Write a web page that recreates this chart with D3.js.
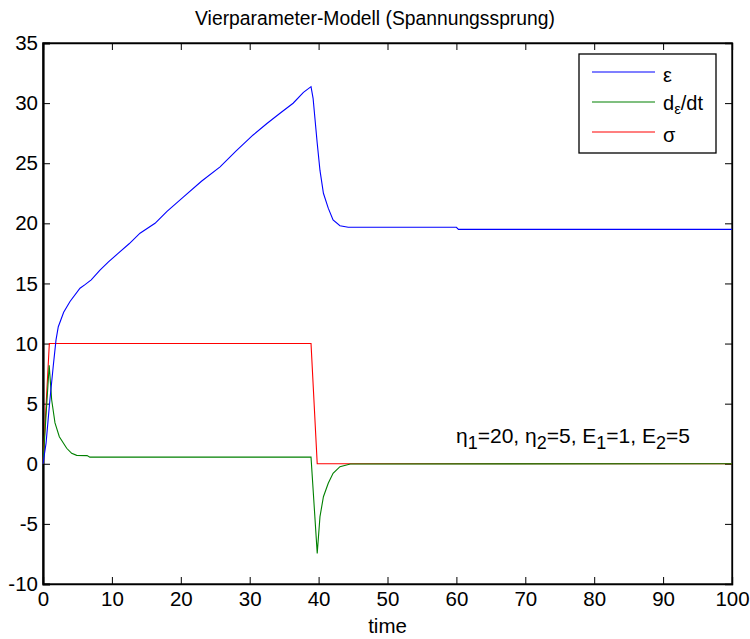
<!DOCTYPE html>
<html><head><meta charset="utf-8">
<script src="https://cdn.jsdelivr.net/npm/d3@7"></script>
<style>
body{margin:0;background:#fff;}
text{font-family:"Liberation Sans",Arial,Helvetica,sans-serif;fill:#000;}
</style></head><body>
<svg id="c" width="750" height="639"></svg>
<script>
// ---- data ----
const epsT = [0,0.44,1.0,1.5,1.89,2.22,3.0,3.92,5.37,6.1,7.0,8.27,9.5,10.9,12.5,14.08,16.26,18,20.4,23,25.7,28,30.5,32.5,34.4,36.3,37.8,38.9,39.2,39.8,40.2,40.7,41.4,42.1,43.1,44.3,60,60.3,100];
const epsV = [0,1.7,5.3,8.2,10.3,11.4,12.6,13.5,14.6,14.9,15.3,16.1,16.8,17.5,18.3,19.18,20.0,21.0,22.2,23.5,24.7,26.0,27.35,28.3,29.16,29.99,30.9,31.37,30.4,26.66,24.4,22.5,21.26,20.28,19.8,19.67,19.67,19.5,19.5];
const dEpsT = [0,0.9,1.26,1.74,2.37,3.44,4.16,4.89,6.4,6.8,38.9,39.8,40.2,40.7,41.4,42.1,43.1,44.6,100];
const dEpsV = [0,8.2,5.3,3.4,2.25,1.29,0.87,0.70,0.68,0.55,0.55,-7.45,-4.4,-2.74,-1.62,-0.79,-0.24,-0.02,0];
const sigT = [0,0.92,38.9,39.8,100];
const sigV = [0,10,10,0,0];
const xTicks = [0,10,20,30,40,50,60,70,80,90,100];
const yTicks = [-10,-5,0,5,10,15,20,25,30,35];
const seriesNames = ["ε","dε/dt","σ"];
const seriesColors = ["#0000ff","#008000","#ff0000"];
const titleText = "Vierparameter-Modell (Spannungssprung)";
const xLabel = "time";

const svg = d3.select("#c");
const L=43,R=732,T=43,B=584;
const x = d3.scaleLinear().domain([0,100]).range([L,R]);
const y = d3.scaleLinear().domain([-10,35]).range([B,T]);

// axes box
svg.append("rect").attr("x",L).attr("y",T).attr("width",R-L).attr("height",B-T)
  .attr("fill","#fff").attr("stroke","#000").attr("stroke-width",1.3);

const fs = 20.5;
const fmt = d => String(d);
const ax = d3.axisBottom(x).tickValues(xTicks).tickSize(-7).tickPadding(7).tickFormat(fmt);
const gx = svg.append("g").attr("transform",`translate(0,${B})`).call(ax);
const axT = d3.axisTop(x).tickValues(xTicks).tickSize(-7).tickFormat("");
const gxt = svg.append("g").attr("transform",`translate(0,${T})`).call(axT);
const ay = d3.axisLeft(y).tickValues(yTicks).tickSize(-7).tickPadding(5).tickFormat(fmt);
const gy = svg.append("g").attr("transform",`translate(${L},0)`).call(ay);
const ayR = d3.axisRight(y).tickValues(yTicks).tickSize(-7).tickFormat("");
const gyr = svg.append("g").attr("transform",`translate(${R},0)`).call(ayR);
[gx,gxt,gy,gyr].forEach(g=>{
  g.select(".domain").attr("stroke","#000").attr("stroke-width",1.3);
  g.selectAll(".tick line").attr("stroke","#000");
  g.selectAll("text").attr("font-family",null).style("font-size",fs+"px").attr("fill","#000");
});
gy.select(".domain").attr("stroke-width",2.2);

// lines
const line = d3.line().x(d=>x(d[0])).y(d=>y(d[1]));
const data = [d3.zip(epsT,epsV), d3.zip(dEpsT,dEpsV), d3.zip(sigT,sigV)];
const g = svg.append("g");
[2,1,0].forEach(i=>{
  g.append("path").datum(data[i]).attr("fill","none").attr("stroke",seriesColors[i])
   .attr("stroke-width",1.1).attr("d",line);
});

// title & label
svg.append("text").attr("x",375).attr("y",25).attr("text-anchor","middle")
  .style("font-size","19.3px").text(titleText);
svg.append("text").attr("x",(L+R)/2).attr("y",633).attr("text-anchor","middle")
  .style("font-size",fs+"px").text(xLabel);

// annotation
const ann = svg.append("text").attr("x",456).attr("y",443).style("font-size","21px");
const parts = [["η","1","=20, "],["η","2","=5, "],["E","1","=1, "],["E","2","=5"]];
parts.forEach(p=>{
  ann.append("tspan").text(p[0]);
  ann.append("tspan").attr("dy",6).style("font-size","18px").text(p[1]);
  ann.append("tspan").attr("dy",-6).text(p[2]);
});

// legend
const lg = svg.append("g");
lg.append("rect").attr("x",579).attr("y",54).attr("width",137).attr("height",99)
  .attr("fill","#fff").attr("stroke","#000").attr("stroke-width",1.3);
const ly = [72,102,132];
seriesNames.forEach((n,i)=>{
  lg.append("line").attr("x1",592).attr("x2",655).attr("y1",ly[i]).attr("y2",ly[i])
    .attr("stroke",seriesColors[i]).attr("stroke-width",1.1);
});
lg.append("text").attr("x",663).attr("y",ly[0]+10).style("font-size","20px").text("ε");
const t2 = lg.append("text").attr("x",663).attr("y",ly[1]+8).style("font-size","20px");
t2.append("tspan").text("d");
t2.append("tspan").attr("dy",4).style("font-size","15px").text("ε");
t2.append("tspan").attr("dy",-4).text("/dt");
lg.append("text").attr("x",663).attr("y",ly[2]+10).style("font-size","20px").text("σ");
</script></body></html>
